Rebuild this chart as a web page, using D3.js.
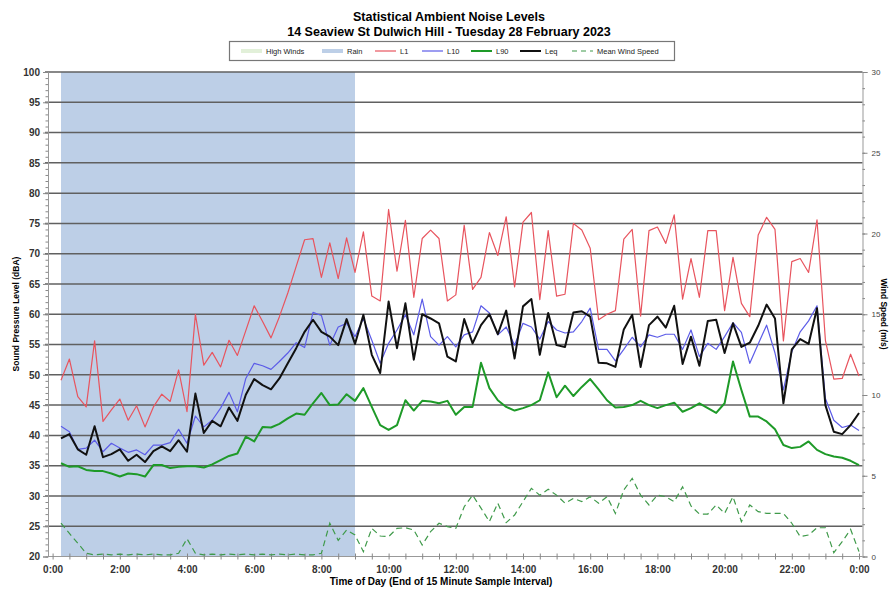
<!DOCTYPE html>
<html>
<head>
<meta charset="utf-8">
<script src="https://cdn.jsdelivr.net/npm/d3@7"></script>
<style>
  body { margin: 0; background: #fff; }
  svg { font-family: "Liberation Sans", Arial, sans-serif; }
</style>
</head>
<body>
<svg id="chart" width="892" height="589"></svg>
<script>
// 15 minute samples, each one stamped at the end of its interval (0:15 .. 24:00)
const times = d3.range(1, 97).map((i) => i * 0.25);

const L1 = [
  49.1, 52.6, 46.4, 44.7, 55.6, 42.3, 44.2, 46.0, 42.5, 44.9, 41.4, 44.7,
  46.8, 45.6, 50.8, 43.9, 60.0, 51.6, 53.7, 51.3, 55.7, 53.2, 57.3, 61.4,
  58.8, 56.1, 59.6, 63.5, 67.9, 72.3, 72.5, 66.1, 71.8, 65.9, 72.6, 66.9,
  73.6, 63.0, 62.2, 77.3, 67.1, 75.5, 62.8, 72.5, 73.9, 72.5, 62.2, 63.2,
  74.7, 64.1, 66.1, 73.5, 69.7, 76.1, 64.5, 75.2, 76.8, 62.4, 73.8, 63.0,
  63.3, 75.0, 73.9, 70.9, 59.1, 60.0, 60.6, 72.4, 74.0, 59.7, 73.8, 74.4,
  71.7, 76.4, 62.5, 69.2, 62.8, 73.8, 73.8, 60.6, 69.4, 61.8, 59.6, 73.1,
  76.0, 74.0, 55.6, 68.7, 69.2, 66.9, 75.6, 55.7, 49.3, 49.4, 53.4, 49.8,
];

const L10 = [
  41.5, 40.6, 37.7, 37.9, 39.2, 37.3, 38.7, 37.9, 37.2, 37.6, 36.8, 38.4,
  38.4, 38.8, 41.0, 38.7, 43.2, 41.4, 42.5, 44.5, 47.1, 43.9, 49.4, 51.9,
  51.5, 50.9, 52.2, 53.6, 55.3, 54.5, 60.3, 59.8, 54.9, 57.9, 58.5, 56.3,
  59.3, 55.7, 51.9, 55.2, 57.4, 59.9, 56.6, 62.5, 56.3, 54.9, 56.3, 54.6,
  56.6, 57.1, 61.4, 60.2, 56.6, 57.9, 54.9, 58.5, 57.9, 55.9, 58.8, 57.4,
  56.9, 57.1, 58.8, 61.0, 54.2, 54.2, 52.3, 54.2, 56.2, 54.6, 56.6, 56.2,
  56.7, 56.7, 54.2, 57.4, 53.0, 55.2, 54.2, 56.3, 58.6, 57.0, 51.9, 55.1,
  58.2, 53.6, 47.5, 53.8, 57.1, 58.9, 61.4, 46.1, 42.5, 41.3, 41.7, 40.8,
];

const L90 = [
  35.4, 34.8, 34.9, 34.3, 34.1, 34.1, 33.7, 33.2, 33.7, 33.6, 33.2, 35.1,
  35.1, 34.6, 34.8, 34.9, 34.9, 34.7, 35.2, 35.9, 36.6, 37.0, 39.8, 39.0,
  41.4, 41.3, 41.9, 42.8, 43.6, 43.4, 45.3, 47.0, 45.0, 45.1, 46.8, 45.7,
  47.8, 44.7, 41.7, 40.9, 41.7, 45.8, 44.1, 45.7, 45.6, 45.3, 45.7, 43.4,
  44.7, 44.7, 52.0, 47.8, 45.8, 44.7, 44.1, 44.5, 45.0, 45.8, 50.4, 46.3,
  48.2, 46.5, 48.0, 49.3, 47.6, 45.8, 44.6, 44.7, 45.0, 45.7, 45.0, 44.5,
  45.0, 45.4, 43.9, 44.5, 45.3, 44.5, 43.7, 45.3, 52.2, 47.5, 43.1, 43.1,
  42.3, 41.0, 38.4, 37.9, 38.1, 39.0, 37.6, 36.9, 36.5, 36.3, 35.8, 35.1,
];

const Leq = [
  39.5, 40.2, 37.7, 36.8, 41.5, 36.4, 36.9, 37.7, 35.8, 36.8, 35.6, 37.4,
  38.2, 37.4, 39.2, 37.3, 46.9, 40.4, 42.4, 41.5, 44.6, 42.4, 46.7, 49.3,
  48.3, 47.6, 49.4, 51.9, 54.4, 57.1, 59.1, 57.1, 56.3, 54.9, 59.2, 55.1,
  59.9, 53.3, 50.3, 62.1, 54.4, 61.8, 52.5, 60.0, 59.3, 58.5, 53.0, 52.2,
  59.2, 55.2, 58.2, 60.0, 56.7, 60.6, 52.7, 61.3, 62.5, 53.3, 60.2, 54.9,
  54.6, 60.3, 60.5, 59.6, 52.0, 51.9, 51.3, 57.5, 59.9, 51.3, 58.2, 59.6,
  57.8, 61.4, 51.8, 56.3, 51.5, 58.9, 59.1, 53.6, 58.5, 54.6, 55.3, 58.1,
  61.6, 59.3, 45.3, 54.2, 55.9, 55.1, 61.0, 45.0, 40.6, 40.2, 41.7, 43.7,
];

// mean wind speed, m/s (right axis)
const windSpeed = [
  2.06, 1.43, 0.82, 0.2, 0.1, 0.15, 0.1, 0.15, 0.1, 0.15, 0.1, 0.15,
  0.1, 0.1, 0.2, 1.1, 0.2, 0.1, 0.15, 0.1, 0.15, 0.1, 0.15, 0.1,
  0.15, 0.1, 0.15, 0.1, 0.15, 0.1, 0.1, 0.2, 2.06, 1.0, 1.64, 1.33,
  0.3, 1.74, 1.27, 1.23, 1.74, 1.78, 1.64, 0.71, 1.54, 2.06, 1.85, 1.74,
  3.08, 3.8, 3.0, 2.16, 3.3, 2.1, 2.57, 3.4, 4.22, 3.8, 4.16, 3.8,
  3.3, 3.6, 3.4, 3.7, 3.3, 3.7, 2.67, 4.12, 4.84, 3.8, 3.19, 3.8,
  3.7, 3.4, 4.32, 3.13, 2.63, 2.63, 3.19, 2.67, 3.7, 2.16, 3.19, 2.78,
  2.67, 2.67, 2.67, 2.06, 1.23, 1.33, 1.78, 1.78, 0.24, 0.92, 1.68, 0.3,
];

// shaded periods, [start hour, end hour]
const rainPeriods = [[0.25, 9.0]];
const highWindPeriods = [];

const dbTicks = d3.range(20, 101, 5);
const windTicks = [0, 5, 10, 15, 20, 25, 30];
const hourTicks = [0, 2, 4, 6, 8, 10, 12, 14, 16, 18, 20, 22, 24];

const svg = d3.select("#chart");

// plot frame ("top" is taken by window.top, hence the longer names)
const plotLeft = 48, plotRight = 862.5, plotTop = 72, plotBottom = 556.5;

const x = d3.scaleLinear().domain([0, 24]).range([52.6, 859]);
const y = d3.scaleLinear().domain([20, 100]).range([plotBottom, plotTop]);
const yWind = d3.scaleLinear().domain([0, 30]).range([plotBottom, plotTop]);

// titles
svg.append("text")
  .attr("x", 449).attr("y", 21)
  .attr("text-anchor", "middle")
  .style("font-size", "12.5px").style("font-weight", "bold")
  .text("Statistical Ambient Noise Levels");
svg.append("text")
  .attr("x", 449).attr("y", 35.5)
  .attr("text-anchor", "middle")
  .style("font-size", "12.5px").style("font-weight", "bold")
  .text("14 Seaview St Dulwich Hill - Tuesday 28 February 2023");

// shaded bands
svg.append("g").selectAll("rect")
  .data(rainPeriods)
  .enter().append("rect")
  .attr("x", (d) => x(d[0]))
  .attr("width", (d) => x(d[1]) - x(d[0]))
  .attr("y", plotTop)
  .attr("height", plotBottom - plotTop)
  .attr("fill", "#bdcfe7");

svg.append("g").selectAll("rect")
  .data(highWindPeriods)
  .enter().append("rect")
  .attr("x", (d) => x(d[0]))
  .attr("width", (d) => x(d[1]) - x(d[0]))
  .attr("y", plotTop)
  .attr("height", plotBottom - plotTop)
  .attr("fill", "#e2f0d9");

// gridlines every 5 dB
svg.append("g").selectAll("line")
  .data(dbTicks.filter((d) => d > 20))
  .enter().append("line")
  .attr("x1", plotLeft - 3).attr("x2", plotRight)
  .attr("y1", (d) => y(d)).attr("y2", (d) => y(d))
  .attr("stroke", "#606060")
  .attr("stroke-width", 1.5);

// left axis
const yAxis = svg.append("g")
  .attr("transform", `translate(${plotLeft},0)`)
  .call(d3.axisLeft(y).tickValues(dbTicks).tickSize(5).tickPadding(3));
svg.append("g")
  .attr("transform", `translate(${plotLeft},0)`)
  .call(d3.axisLeft(y).tickValues(d3.range(20, 101, 1)).tickSize(2.5).tickFormat(""))
  .call((g) => g.select(".domain").remove());

// right axis
const wAxis = svg.append("g")
  .attr("transform", `translate(${plotRight},0)`)
  .call(d3.axisRight(yWind).tickValues(windTicks).tickSize(5).tickPadding(4));
svg.append("g")
  .attr("transform", `translate(${plotRight},0)`)
  .call(d3.axisRight(yWind).tickValues(d3.range(0, 31, 1)).tickSize(2.5).tickFormat(""))
  .call((g) => g.select(".domain").remove());

// bottom axis, labels every two hours, cross ticks every half hour
const xAxis = svg.append("g")
  .attr("transform", `translate(0,${plotBottom})`)
  .call(d3.axisBottom(x).tickValues(hourTicks).tickSize(0).tickPadding(9)
    .tickFormat((h) => (h % 24) + ":00"));
svg.append("g")
  .attr("transform", `translate(0,${plotBottom})`)
  .call(d3.axisBottom(x).tickValues(d3.range(0, 24.01, 0.5)).tickSize(3).tickFormat(""))
  .call((g) => g.select(".domain").remove())
  .call((g) => g.selectAll(".tick line").attr("y1", -3));

xAxis.select(".domain").attr("d", `M${plotLeft},0H${plotRight}`);

svg.selectAll(".tick line").attr("stroke", "#888");
svg.selectAll(".domain").attr("stroke", "#999");
yAxis.selectAll("text").style("font-size", "10px").style("font-weight", "bold").attr("fill", "#333");
xAxis.selectAll("text").style("font-size", "10px").style("font-weight", "bold").attr("fill", "#333");
wAxis.selectAll("text").style("font-size", "8px").attr("fill", "#444");

// axis titles
svg.append("text")
  .attr("transform", "translate(19,314) rotate(-90)")
  .attr("text-anchor", "middle")
  .style("font-size", "8.5px").style("font-weight", "bold")
  .text("Sound Pressure Level (dBA)");
svg.append("text")
  .attr("transform", "translate(881,314) rotate(90)")
  .attr("text-anchor", "middle")
  .style("font-size", "8.5px").style("font-weight", "bold")
  .text("Wind Speed (m/s)");
svg.append("text")
  .attr("x", 441).attr("y", 585)
  .attr("text-anchor", "middle")
  .style("font-size", "10px").style("font-weight", "bold")
  .text("Time of Day (End of 15 Minute Sample Interval)");

// series
const dbLine = d3.line().x((d, i) => x(times[i])).y((d) => y(d));
const windLine = d3.line().x((d, i) => x(times[i])).y((d) => yWind(d));

svg.append("path").datum(windSpeed)
  .attr("d", windLine)
  .attr("fill", "none").attr("stroke", "#3f9a4a")
  .attr("stroke-width", 1.2).attr("stroke-dasharray", "6,4");

const series = [
  { data: L1, color: "#e8545e", width: 1.2 },
  { data: L10, color: "#5c5ce8", width: 1.2 },
  { data: L90, color: "#1e9a28", width: 2 },
  { data: Leq, color: "#111", width: 2 },
];

svg.append("g").selectAll("path")
  .data(series)
  .enter().append("path")
  .attr("d", (d) => dbLine(d.data))
  .attr("fill", "none")
  .attr("stroke", (d) => d.color)
  .attr("stroke-width", (d) => d.width)
  .attr("stroke-linejoin", "round");

// legend
const legend = svg.append("g");
legend.append("rect")
  .attr("x", 229.5).attr("y", 41.5).attr("width", 445).attr("height", 19)
  .attr("fill", "#fff").attr("stroke", "#777").attr("stroke-width", 1.2);

const legendItems = [
  { label: "High Winds", x: 241, kind: "box", color: "#e2f0d9" },
  { label: "Rain", x: 322, kind: "box", color: "#bdcfe7" },
  { label: "L1", x: 375, kind: "line", color: "#e8545e", width: 1.2 },
  { label: "L10", x: 422, kind: "line", color: "#5c5ce8", width: 1.2 },
  { label: "L90", x: 471, kind: "line", color: "#1e9a28", width: 2 },
  { label: "Leq", x: 520, kind: "line", color: "#111", width: 2 },
  { label: "Mean Wind Speed", x: 572, kind: "dash", color: "#3f9a4a", width: 1.2 },
];

legendItems.forEach((item) => {
  if (item.kind === "box") {
    legend.append("rect")
      .attr("x", item.x).attr("y", 49).attr("width", 21).attr("height", 4)
      .attr("fill", item.color);
  } else {
    legend.append("line")
      .attr("x1", item.x).attr("x2", item.x + 21)
      .attr("y1", 51).attr("y2", 51)
      .attr("stroke", item.color)
      .attr("stroke-width", item.width)
      .attr("stroke-dasharray", item.kind === "dash" ? "5,4" : null);
  }
  legend.append("text")
    .attr("x", item.x + 25).attr("y", 53.8)
    .style("font-size", "7.5px")
    .attr("fill", "#222")
    .text(item.label);
});
</script>
</body>
</html>
